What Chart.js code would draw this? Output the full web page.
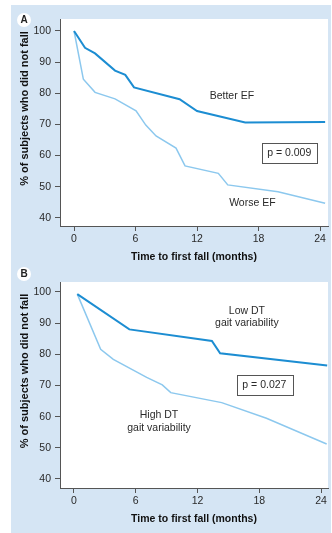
<!DOCTYPE html>
<html><head><meta charset="utf-8">
<script src="https://cdn.jsdelivr.net/npm/chart.js@4/dist/chart.umd.min.js"></script>
<style>
html,body{margin:0;padding:0;background:#fff;width:332px;height:533px;overflow:hidden;}
#panel{position:absolute;left:11px;top:5px;width:320px;height:528px;background:#d5e5f4;}
canvas{position:absolute;left:11px;}
#ca{top:5px;}
#cb{top:265px;}
.badge{position:absolute;left:17px;width:14px;height:14px;border-radius:50%;background:#fff;font:bold 10px "Liberation Sans",Arial,sans-serif;text-align:center;line-height:14px;color:#222;}
</style></head>
<body>
<div id="panel"></div>
<canvas id="ca" width="320" height="260"></canvas>
<canvas id="cb" width="320" height="268"></canvas>
<div class="badge" style="top:13px">A</div>
<div class="badge" style="top:267px">B</div>
<script>
// ---- data ----
const xTickValues = [0, 6, 12, 18, 24];
const yTickValues = [40, 50, 60, 70, 80, 90, 100];
const xAxisTitle = 'Time to first fall (months)';
const yAxisTitle = '% of subjects who did not fall';

const betterEFMonths = [0, 1.07, 2.05, 4.0, 5.0, 5.85, 10.3, 12.0, 16.7, 24.5];
const betterEFPct    = [100, 94.6, 92.8, 87.3, 85.9, 81.9, 78.1, 74.3, 70.6, 70.8];
const worseEFMonths  = [0, 0.91, 2.05, 4.0, 6.05, 7.0, 8.0, 9.95, 10.83, 14.08, 15.0, 19.9, 24.5];
const worseEFPct     = [100, 84.5, 80.3, 78.2, 74.4, 69.8, 66.3, 62.4, 56.7, 54.3, 50.6, 48.4, 44.7];

const lowDTMonths  = [0.32, 5.38, 13.4, 14.2, 24.6];
const lowDTPct     = [99.3, 88.0, 84.3, 80.3, 76.4];
const highDTMonths = [0.32, 2.59, 3.82, 7.06, 8.58, 9.4, 14.35, 18.7, 24.55];
const highDTPct    = [99.3, 81.6, 78.4, 72.6, 70.2, 67.7, 64.5, 59.5, 51.2];

const seriesLabelsA = ['Better EF', 'Worse EF'];
const seriesLabelsB = ['Low DT gait variability', 'High DT gait variability'];
const pValueA = 'p = 0.009';
const pValueB = 'p = 0.027';

// ---- styling ----
const FONT = '"Liberation Sans", Arial, Helvetica, sans-serif';
const DARK = '#1c8dd2';
const LIGHT = '#8cc8ee';
const AXIS = '#555';
const TXT = '#2a2a2a';

function pts(xs, ys) { return xs.map((x, i) => ({x: x, y: ys[i]})); }

const whiteArea = {
  id: 'whiteArea',
  beforeDraw(chart) {
    const a = chart.chartArea, c = chart.ctx;
    c.save(); c.fillStyle = '#fff';
    c.fillRect(a.left, a.top, a.right - a.left, a.bottom - a.top);
    c.restore();
  }
};

const notes = {
  id: 'notes',
  afterDatasetsDraw(chart) {
    const list = chart.options.plugins.notes.items || [];
    const c = chart.ctx, xs = chart.scales.x, ys = chart.scales.y;
    c.save();
    c.font = '10.5px ' + FONT;
    c.fillStyle = TXT;
    c.textAlign = 'center';
    c.textBaseline = 'middle';
    list.forEach(n => {
      if (n.box) {
        const x1 = xs.getPixelForValue(n.box[0]), x2 = xs.getPixelForValue(n.box[1]);
        const y1 = ys.getPixelForValue(n.box[2]), y2 = ys.getPixelForValue(n.box[3]);
        c.fillStyle = '#fff';
        c.fillRect(x1, y1, x2 - x1, y2 - y1);
        c.strokeStyle = '#555'; c.lineWidth = 1;
        c.strokeRect(Math.round(x1) + 0.5, Math.round(y1) + 0.5, Math.round(x2 - x1), Math.round(y2 - y1));
        c.fillStyle = TXT;
        c.fillText(n.text, (x1 + x2) / 2, (y1 + y2) / 2 + 0.5);
      } else {
        c.fillText(n.text, xs.getPixelForValue(n.x), ys.getPixelForValue(n.y));
      }
    });
    // y axis title (drawn slightly above the vertical centre, as in the figure)
    const a = chart.chartArea;
    c.translate(14, (a.top + a.bottom) / 2 - 14);
    c.rotate(-Math.PI / 2);
    c.font = 'bold 11px ' + FONT;
    c.fillStyle = '#111';
    c.fillText(yAxisTitle, 0, 0);
    c.restore();
  }
};

function makeChart(id, datasets, xr, yr, padTop, xAxisH, xTitleBottomPad, items) {
  return new Chart(document.getElementById(id), {
    type: 'line',
    data: { datasets: datasets },
    plugins: [whiteArea, notes],
    options: {
      responsive: false,
      animation: false,
      layout: { padding: { top: padTop, right: 3, left: 0, bottom: 0 } },
      plugins: { legend: { display: false }, tooltip: { enabled: false }, notes: { items: items } },
      elements: { point: { radius: 0 }, line: { tension: 0 } },
      scales: {
        x: {
          type: 'linear', min: xr[0], max: xr[1],
          afterBuildTicks: s => { s.ticks = xTickValues.map(v => ({value: v})); },
          afterFit: s => { s.height = xAxisH; },
          grid: { display: true, drawOnChartArea: false, drawTicks: true, tickLength: 5, color: AXIS, lineWidth: 1 },
          border: { display: true, color: AXIS, width: 1 },
          ticks: { color: TXT, font: { family: FONT, size: 10.5 }, padding: 2, maxRotation: 0 },
          title: { display: true, text: xAxisTitle, color: '#111', font: { family: FONT, size: 10.5, weight: 'bold' }, padding: { top: 0, bottom: xTitleBottomPad } }
        },
        y: {
          type: 'linear', min: yr[0], max: yr[1],
          afterBuildTicks: s => { s.ticks = yTickValues.map(v => ({value: v})); },
          afterFit: s => { s.width = 49; },
          grid: { display: true, drawOnChartArea: false, drawTicks: true, tickLength: 5, color: AXIS, lineWidth: 1 },
          border: { display: true, color: AXIS, width: 1 },
          ticks: { color: TXT, font: { family: FONT, size: 10.5 }, padding: 4 },
          title: { display: false, text: yAxisTitle }
        }
      }
    }
  });
}

makeChart('ca', [
  { label: seriesLabelsA[0], data: pts(betterEFMonths, betterEFPct), borderColor: DARK, borderWidth: 2, fill: false },
  { label: seriesLabelsA[1], data: pts(worseEFMonths, worseEFPct), borderColor: LIGHT, borderWidth: 1.5, fill: false }
], [-1.37, 24.78], [37.4, 103.85], 14, 39, 1.4, [
  { text: seriesLabelsA[0], x: 15.4, y: 79.1 },
  { text: seriesLabelsA[1], x: 17.4, y: 44.8 },
  { text: pValueA, box: [18.3, 23.7, 64.1, 57.7] }
]);

makeChart('cb', [
  { label: seriesLabelsB[0], data: pts(lowDTMonths, lowDTPct), borderColor: DARK, borderWidth: 2, fill: false },
  { label: seriesLabelsB[1], data: pts(highDTMonths, highDTPct), borderColor: LIGHT, borderWidth: 1.5, fill: false }
], [-1.36, 24.68], [37.1, 103.2], 17, 45, 7.4, [
  { text: 'Low DT', x: 16.8, y: 94.0 },
  { text: 'gait variability', x: 16.8, y: 90.0 },
  { text: 'High DT', x: 8.26, y: 60.5 },
  { text: 'gait variability', x: 8.26, y: 56.3 },
  { text: pValueB, box: [15.8, 21.2, 73.4, 67.0] }
]);
</script>
</body></html>
